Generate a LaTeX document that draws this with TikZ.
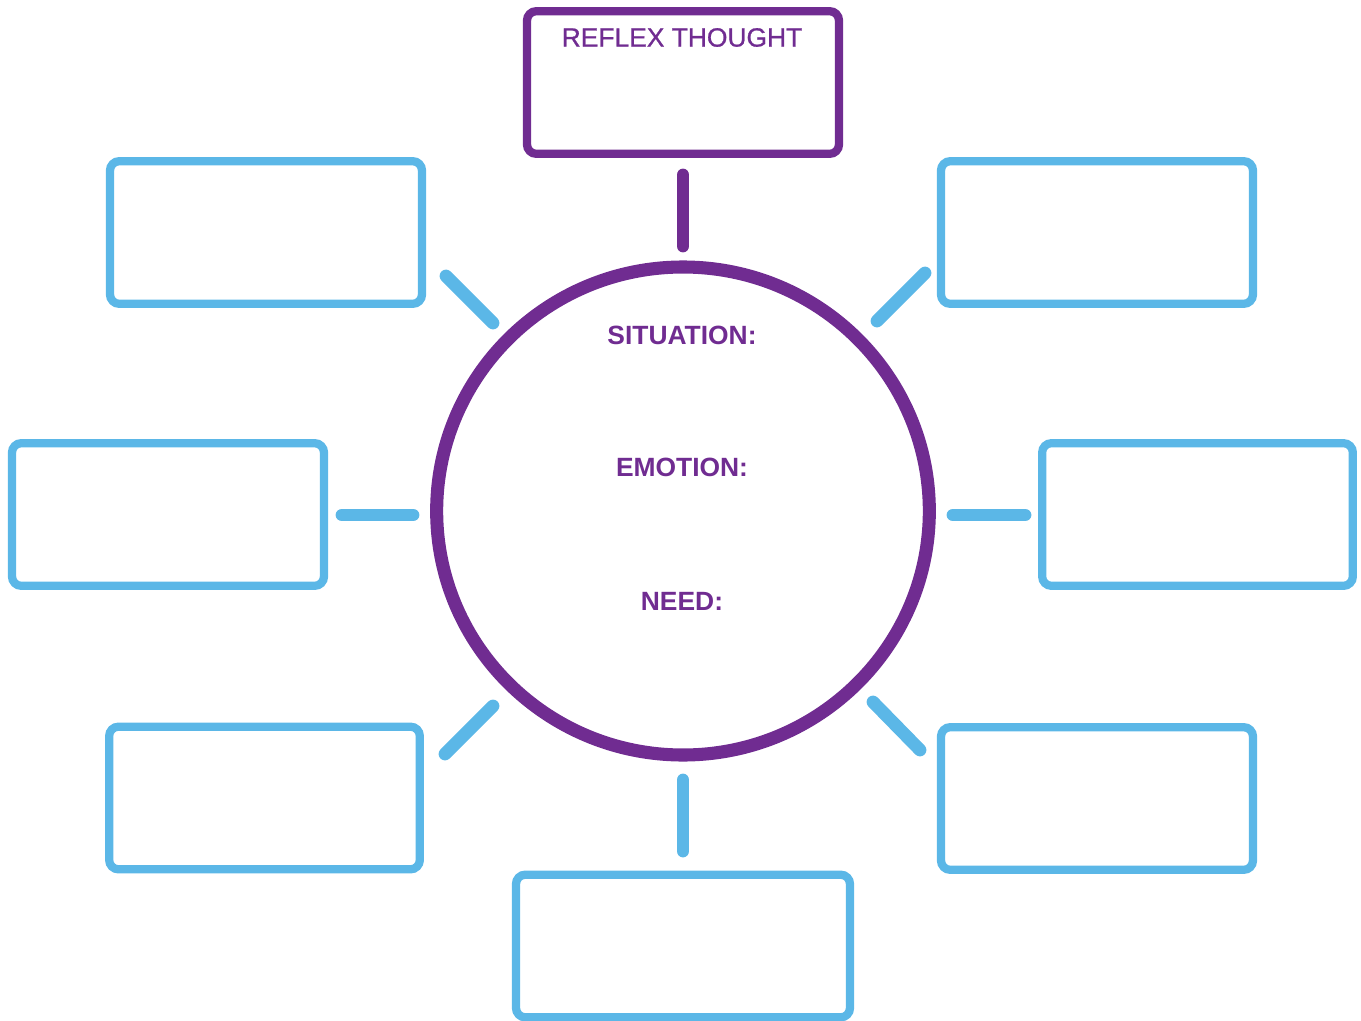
\documentclass[tikz,border=0pt]{standalone}
\usepackage{fontspec}
\setmainfont{Liberation Sans}
\newfontfamily\medfont[FakeBold=0.9]{Liberation Sans}
\usetikzlibrary{shapes.geometric}
\definecolor{ppl}{RGB}{112,44,145}
\definecolor{sky}{RGB}{91,183,231}
\tikzset{
  bluebox/.style={draw=sky, line width=6.2pt, rounded corners=7pt, rectangle, inner sep=0pt, minimum width=234pt, minimum height=107pt},
  purplebox/.style={draw=ppl, line width=6.2pt, rounded corners=7pt, rectangle, inner sep=0pt, minimum width=234pt, minimum height=107pt},
  bluelink/.style={draw=sky, line width=9.6pt, line cap=round},
  purplelink/.style={draw=ppl, line width=9.6pt, line cap=round},
  lbl/.style={text=ppl, font=\fontsize{19.8pt}{23pt}\selectfont\bfseries, inner sep=0pt},
  lblreg/.style={text=ppl, font=\medfont\fontsize{19.8pt}{23pt}\selectfont, inner sep=0pt}
}
\begin{document}
\begin{tikzpicture}[x=0.75pt, y=-0.75pt]
\useasboundingbox (0,0) rectangle (1361,1021);
% centre circle
\node[ellipse, draw=ppl, line width=9.8pt, minimum width=369.5pt, minimum height=366pt, inner sep=0pt] (c) at (683,511) {};
\node[lbl] (sit) at (682,335) {SITUATION:};
\node[lbl] (emo) at (682,467.5) {EMOTION:};
\node[lbl] (need) at (682,601) {NEED:};
% top purple box
\node[purplebox] (top) at (683,82.5) {};
\node[lblreg] (rt) at (682,37.5) {REFLEX THOUGHT};
% blue boxes
\node[bluebox] (tl) at (266,232.5) {};
\node[bluebox] (tr) at (1097,232.5) {};
\node[bluebox] (l) at (168,514.5) {};
\node[bluebox, minimum width=233pt] (r) at (1197.5,514.5) {};
\node[bluebox, minimum width=233pt] (bl) at (264.5,798) {};
\node[bluebox] (br) at (1097,798.5) {};
\node[bluebox, minimum width=250.5pt] (b) at (683,946) {};
% connector end points
\coordinate (pt1) at (683,175);
\coordinate (pt2) at (683,246);
\coordinate (tl1) at (446,276);
\coordinate (tl2) at (493,323);
\coordinate (tr1) at (925,273);
\coordinate (tr2) at (877,321);
\coordinate (l1) at (342,515);
\coordinate (l2) at (413,515);
\coordinate (r1) at (953,515);
\coordinate (r2) at (1025,515);
\coordinate (bl1) at (493,706);
\coordinate (bl2) at (445,754);
\coordinate (br1) at (873,702);
\coordinate (br2) at (920,750);
\coordinate (b1) at (683,780);
\coordinate (b2) at (683,851);
% connectors
\draw[purplelink] (pt1) -- (pt2);
\draw[bluelink] (tl1) -- (tl2);
\draw[bluelink] (tr1) -- (tr2);
\draw[bluelink] (l1) -- (l2);
\draw[bluelink] (r1) -- (r2);
\draw[bluelink] (bl1) -- (bl2);
\draw[bluelink] (br1) -- (br2);
\draw[bluelink] (b1) -- (b2);
\end{tikzpicture}
\end{document}
